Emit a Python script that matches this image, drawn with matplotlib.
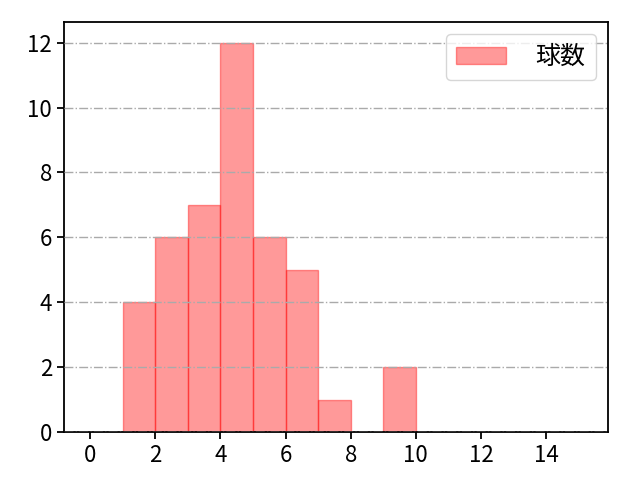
import matplotlib
matplotlib.use("Agg")
import matplotlib.pyplot as plt
import numpy as np

plt.rcParams['font.family'] = ['Noto Sans CJK JP', 'DejaVu Sans']

bin_edges = [1, 2, 3, 4, 5, 6, 7, 8, 9, 10]
counts = [4, 6, 7, 12, 6, 5, 1, 0, 2]
label = "球数"

fig, ax = plt.subplots(figsize=(6.4, 4.8), dpi=100)
ax.hist(bin_edges[:-1], bins=bin_edges, weights=counts, color='red', alpha=0.4,
        edgecolor='red', linewidth=1, label=label)
ax.set_xlim(-0.8, 15.9)
ax.set_ylim(0, 12.65)
ax.set_xticks(range(0, 15, 2))
ax.set_yticks(range(0, 13, 2))
ax.grid(axis='y', linestyle='-.', color='#aaaaaa', linewidth=1.0)
ax.set_axisbelow(False)
for s in ax.spines.values():
    s.set_linewidth(1.3)
ax.tick_params(labelsize=16, width=1.3, length=5)
ax.legend(loc='upper right', fontsize=18, handlelength=2.0, handleheight=0.7,
          borderpad=0.4, handletextpad=1.2)
fig.subplots_adjust(left=0.1, right=0.95, top=0.955, bottom=0.1)
fig.savefig("out.png", dpi=100)
